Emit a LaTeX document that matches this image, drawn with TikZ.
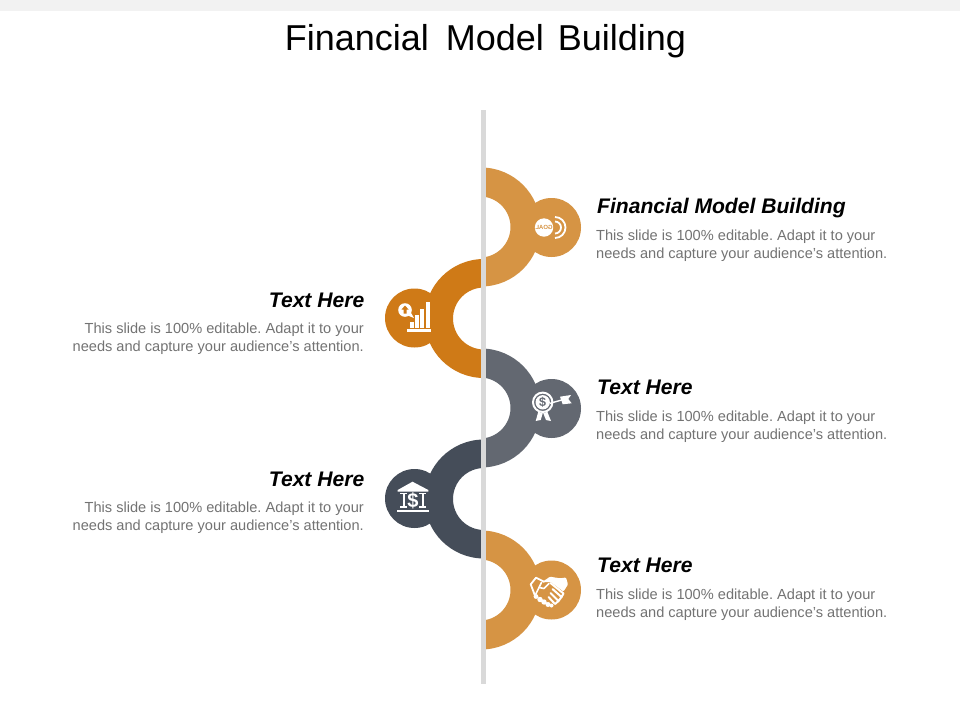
\documentclass[tikz,border=0pt]{standalone}
\usepackage{fontspec}
\setmainfont{Liberation Sans}
\definecolor{barc}{HTML}{D9D9D9}
\definecolor{lightor}{HTML}{D69444}
\definecolor{darkor}{HTML}{CF7A17}
\definecolor{greyc}{HTML}{636871}
\definecolor{slatec}{HTML}{454D59}
\definecolor{bodyc}{HTML}{737373}
\tikzset{
  headR/.style={anchor=base west,inner sep=0pt,font=\fontsize{21.1}{21}\selectfont\bfseries\itshape,text=black},
  headL/.style={anchor=base east,inner sep=0pt,font=\fontsize{21.1}{21}\selectfont\bfseries\itshape,text=black},
  bodyR/.style={anchor=north west,inner sep=0pt,align=left,font=\fontsize{14.6}{18}\selectfont\frenchspacing,text=bodyc},
  bodyL/.style={anchor=north east,inner sep=0pt,align=right,font=\fontsize{14.6}{18}\selectfont\frenchspacing,text=bodyc},
  disc/.style={circle,minimum size=59pt,inner sep=0pt},
  icon/.style={white,line width=1.6pt,line join=round,line cap=round}
}
\newcommand{\ringR}[2]{% colour, y
  \begin{scope}\clip (486,#2-70) rectangle (600,#2+70);
  \fill[#1,even odd rule] (481,#2) circle[radius=59.5] (480,#2) circle[radius=30.5];
  \end{scope}}
\newcommand{\ringL}[2]{%
  \begin{scope}\clip (481,#2-70) rectangle (380,#2+70);
  \fill[#1,even odd rule] (484,#2) circle[radius=59.5] (484,#2) circle[radius=31];
  \end{scope}}
\def\bodytext{This slide is 100\% editable. Adapt it to your\\needs and capture your audience's attention.}
\begin{document}
\begin{tikzpicture}[x=1pt,y=-1pt]
\useasboundingbox (0,0) rectangle (960,720);
\fill[white] (0,0) rectangle (960,720);
\fill[black!5] (0,0) rectangle (960,10.5);
\node[anchor=base,inner sep=0pt,font=\fontsize{36}{36}\selectfont] (title) at (485.5,50) {Financial\hspace{7pt} Model\hspace{4pt} Building};

\ringL{darkor}{318.5}
\ringR{lightor}{227}
\ringR{greyc}{408}
\ringL{slatec}{499}
\ringR{lightor}{590}
\fill[barc] (481,110) rectangle (486,684);

\node[disc,fill=lightor] (c1) at (551.5,227.5) {};
\node[disc,fill=darkor] (c2) at (414.5,318) {};
\node[disc,fill=greyc] (c3) at (551.5,408.5) {};
\node[disc,fill=slatec] (c4) at (414.5,498.5) {};
\node[disc,fill=lightor] (c5) at (551.5,590) {};

% goal icon
\begin{scope}[shift={(c1)}]
  \draw[white,line width=1.8pt] (3.5,-10.5) arc[start angle=-90,end angle=90,radius=10.5];
  \draw[white,line width=1.8pt] (3.5,-6) arc[start angle=-90,end angle=90,radius=6];
  \fill[white] (-7.5,0) circle[radius=9.2];
  \node[inner sep=0pt,text=lightor,font=\fontsize{6}{6}\selectfont\bfseries] (goalt) at (-7.5,0) {\scalebox{-1}[1]{GOAL}};
\end{scope}

% chart icon
\begin{scope}[shift={(c2)}]
  \fill[white] (-7.5,11) rectangle (16.5,14);
  \fill[white] (-5,3.7) rectangle (-1,9.7);
  \fill[white] (0.5,-3) rectangle (4.5,9.7);
  \fill[white] (5.5,-9) rectangle (9.5,9.7);
  \fill[white] (11,-16) rectangle (15.5,9.7);
  \fill[white] (-9.5,-8) circle[radius=6.8];
  \fill[white] (-8,-3) -- (-0.5,0) -- (-4,-6) -- cycle;
  \fill[darkor] (-9.5,-12.5) -- (-6,-8.5) -- (-8,-8.5) -- (-8,-4.5) -- (-11,-4.5) -- (-11,-8.5) -- (-13,-8.5) -- cycle;
\end{scope}

% target icon
\begin{scope}[shift={(c3)}]
  \draw[white,line width=2pt] (-8.8,-6.2) circle[radius=9.7];
  \fill[white] (-8.8,-6.2) circle[radius=7.2];
  \node[inner sep=0pt,text=greyc,font=\fontsize{12.5}{12.5}\selectfont\bfseries] (dollar1) at (-8.8,-6.2) {\$};
  \fill[white] (-13.2,3.2) -- (-15.8,12.5) -- (-10.8,11.5) -- (-8.8,4.8) -- cycle;
  \fill[white] (-4.2,3.2) -- (-0.5,12.5) -- (-5.5,11.5) -- (-8.2,4.8) -- cycle;
  \draw[white,line width=1.4pt] (-1.5,-5.2) -- (10.2,-8.5);
  \fill[white] (8.5,-11.8) -- (19.5,-13.5) -- (16.8,-9.5) -- (20.2,-5.2) -- (11.2,-4.2) -- cycle;
\end{scope}

% bank icon
\begin{scope}[shift={(c4)}]
  \fill[white] (-16.8,-8.5) -- (-2,-16.8) -- (13.8,-8.5) -- (13.8,-6.8) -- (-16.8,-6.8) -- cycle;
  \fill[white] (-14.5,-5.5) rectangle (-7.5,-4.2);
  \fill[white] (-12,-5.5) rectangle (-10,9);
  \fill[white] (-14.5,7.7) rectangle (-7.5,9);
  \fill[white] (4.5,-5.5) rectangle (11.5,-4.2);
  \fill[white] (7,-5.5) rectangle (9,9);
  \fill[white] (4.5,7.7) rectangle (11.5,9);
  \fill[white] (-17.5,11.8) rectangle (14.5,13.3);
  \node[inner sep=0pt,text=white,font=\fontsize{20}{20}\selectfont\bfseries] (dollar2) at (-1.5,2.2) {\$};
\end{scope}

% handshake icon
\begin{scope}[shift={(c5)}]
  % left cuff
  \draw[icon,line width=1.8pt] (-7.5,-8.3) -- (-15.5,-12.3) -- (-20.8,-5.7) -- (-16.5,5.7);
  % upper hand, solid
  \fill[white,rounded corners=1pt] (-10,-7.5) -- (-1.5,-13.3) -- (8.5,-11.7) -- (14.5,-12.5) -- (16.5,-5.5) -- (12,1.5) -- (-1,-8) -- (-5,-8) -- cycle;
  % thumb
  \draw[icon] (-10,-7.5) -- (-12.5,-2.5) -- (-7.5,-1.5) -- (-2.5,-6.5);
  % palm lower edge
  \draw[icon] (-12.5,-2.5) -- (-16.5,5.7);
  % fingers
  \draw[icon,line width=2pt] (-1,-7) -- (12,3.5) -- (10,7) -- (1,-1);
  \draw[icon,line width=2pt] (10,7) -- (7,11) -- (-1,3);
  \draw[icon,line width=2pt] (7,11) -- (3.5,14) -- (-3,7);
  % knuckle chain
  \fill[white] (-15.5,6.5) circle[radius=2.4] (-11.5,9.5) circle[radius=2.7] (-7.5,12) circle[radius=2.7] (-3.5,14.5) circle[radius=2.5] (0,15.5) circle[radius=2];
\end{scope}

\node[headR] (h1) at (597,213) {Financial Model Building};
\node[bodyR] (b1) at (596,229.5) {\bodytext};
\node[headL] (h2) at (364.5,307) {Text Here};
\node[bodyL] (b2) at (364,322.5) {\bodytext};
\node[headR] (h3) at (597,394) {Text Here};
\node[bodyR] (b3) at (596,410.5) {\bodytext};
\node[headL] (h4) at (364.5,486) {Text Here};
\node[bodyL] (b4) at (364,501.5) {\bodytext};
\node[headR] (h5) at (597,572) {Text Here};
\node[bodyR] (b5) at (596,588.5) {\bodytext};
\end{tikzpicture}
\end{document}
